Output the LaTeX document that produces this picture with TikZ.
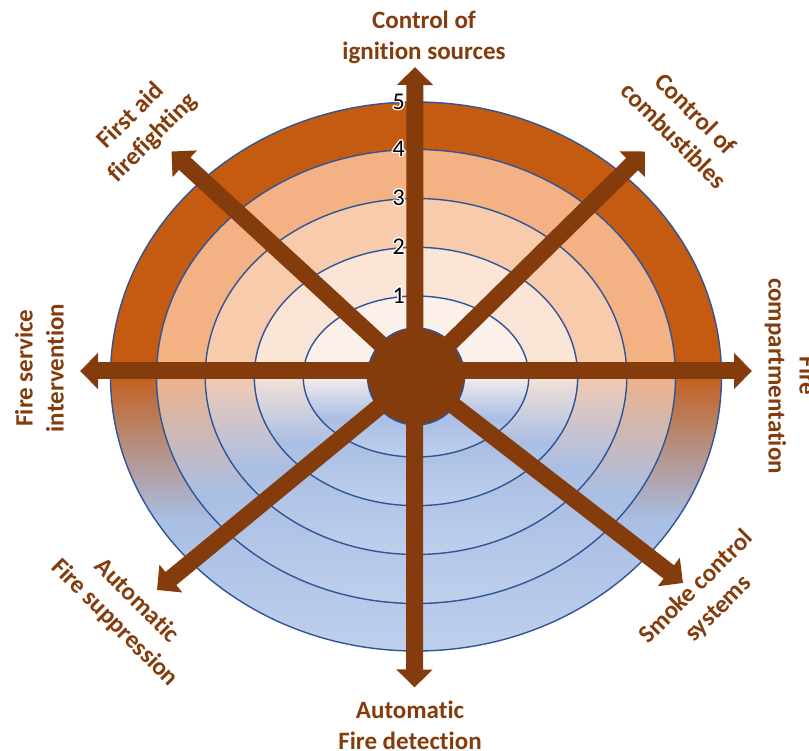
\documentclass[tikz,border=0pt]{standalone}
\usepackage{fontspec}
\setmainfont{Carlito}[Ligatures=NoCommon]
\usepackage{contour}
\contourlength{1.3pt}
\usetikzlibrary{arrows.meta}

\definecolor{spoke}{HTML}{843C0C}
\definecolor{rim}{HTML}{2F5597}
\definecolor{ringA}{HTML}{FBF1EA}
\definecolor{ringB}{HTML}{FBE5D6}
\definecolor{ringC}{HTML}{F8CBAD}
\definecolor{ringD}{HTML}{F4B183}
\definecolor{ringE}{HTML}{C55A11}
\definecolor{coolmid}{HTML}{A9BEE4}
\definecolor{coollow}{HTML}{BFD0EC}

% warm colour on top, blue below (25bp..75bp covers the shape)
\newcommand\levelshading[2]{%
  \pgfdeclareverticalshading{#1}{100bp}{color(0bp)=(coollow); color(25bp)=(coollow);
    color(37bp)=(coolmid); color(51bp)=(#2); color(100bp)=(#2)}}
\levelshading{levelA}{ringA}
\levelshading{levelB}{ringB}
\levelshading{levelC}{ringC}
\levelshading{levelD}{ringD}
\levelshading{levelE}{ringE}

\begin{document}
\begin{tikzpicture}[x=1pt,y=-1pt,
  level/.style={draw=rim,line width=1.4pt},
  spokearrow/.style={spoke,line width=17pt,-{Triangle[width=35pt,length=18pt]}},
  twoway/.style={spoke,line width=17pt,{Triangle[width=35pt,length=18pt]}-{Triangle[width=35pt,length=18pt]}},
  axislabel/.style={text=spoke,font=\fontsize{25}{31}\selectfont\bfseries,align=center,inner sep=0pt},
  score/.style={anchor=east,font=\fontsize{24}{24}\selectfont,inner sep=0pt}]
  \path[use as bounding box,fill=white] (0,0) rectangle (809,751);

  % rings, outermost first
  \coordinate (O) at (416,376.5);
  \path[level,shading=levelE] (O) ellipse [x radius=305.5pt,y radius=274.5pt];
  \path[level,shading=levelD] (O) ellipse [x radius=259.5pt,y radius=227pt];
  \path[level,shading=levelC] (O) ellipse [x radius=210.8pt,y radius=178pt];
  \path[level,shading=levelB] (O) ellipse [x radius=161.7pt,y radius=129.2pt];
  \path[level,shading=levelA] (O) ellipse [x radius=112.8pt,y radius=80.5pt];

  % hub
  \node[circle,fill=spoke,draw=rim,line width=1.4pt,minimum size=97pt,inner sep=0pt] (hub) at (O) {};

  % spokes
  \coordinate (tipN) at (415,67);
  \coordinate (tipS) at (414.5,687.5);
  \coordinate (tipW) at (80,371);
  \coordinate (tipE) at (752,371);
  \coordinate (tipNW) at (171.5,151.5);
  \coordinate (tipNE) at (645,151.5);
  \coordinate (tipSW) at (157,590);
  \coordinate (tipSE) at (683,583);
  \draw[twoway] (tipS) -- (tipN);
  \draw[twoway] (tipW) -- (tipE);
  \draw[spokearrow] (hub.center) -- (tipNW);
  \draw[spokearrow] (hub.center) -- (tipNE);
  \draw[spokearrow] (hub.center) -- (tipSW);
  \draw[spokearrow] (hub.center) -- (tipSE);

  % scale on the vertical spoke
  \foreach \k/\y in {1/296,2/247.5,3/198.5,4/149.5,5/102.5}
    \node[score] (score\k) at (405,\y) {\contour{white}{\k}};

  % measure names
  \node[axislabel] (ignition) at (424,37.5) {Control of\\ignition sources};
  \node[axislabel,rotate=-45] (combust) at (685,124.5) {Control of\\combustibles};
  \node[axislabel,rotate=-90] (compart) at (791,376) {Fire\\compartmentation};
  \node[axislabel,rotate=45] (smoke) at (707.5,598) {Smoke control\\systems};
  \node[axislabel] (detect) at (410,725) {Automatic\\Fire detection};
  \node[axislabel,rotate=-45] (suppress) at (125.5,612) {Automatic\\Fire suppression};
  \node[axislabel,rotate=90] (service) at (39.5,368) {Fire service\\intervention};
  \node[axislabel,rotate=45] (firstaid) at (142,127) {First aid\\firefighting};
\end{tikzpicture}
\end{document}
